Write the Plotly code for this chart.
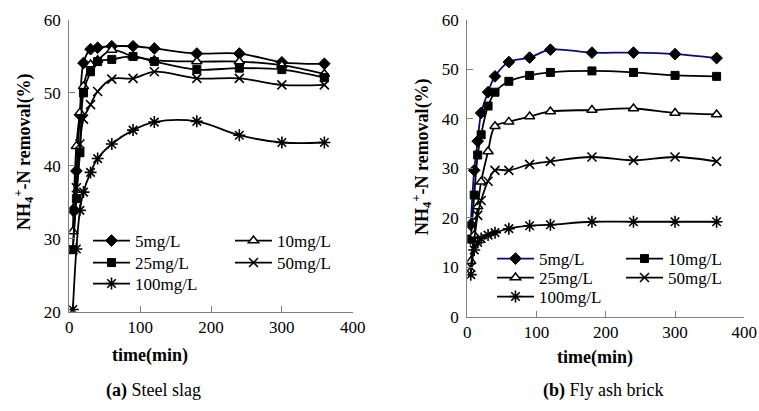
import plotly.graph_objects as go

W, H = 759, 411

# ---------------- data ----------------
time_min = [5, 10, 15, 20, 30, 40, 60, 90, 120, 180, 240, 300, 360]
concentrations = ["5mg/L", "10mg/L", "25mg/L", "50mg/L", "100mg/L"]

# (a) Steel slag
slag_5 = [33.9, 39.3, 47.0, 54.1, 56.0, 56.2, 56.4, 56.4, 56.1, 55.4, 55.4, 54.2, 54.0]
slag_10 = [31.0, 42.7, 47.3, 50.9, 53.9, 54.5, 55.9, 55.0, 54.5, 54.3, 54.3, 53.8, 52.6]
slag_25 = [28.5, 35.5, 41.8, 50.0, 52.9, 54.3, 54.6, 55.0, 54.3, 53.2, 53.4, 53.2, 52.1]
slag_50 = [28.5, 37.0, 43.0, 46.4, 48.4, 50.2, 51.9, 52.0, 52.9, 52.0, 52.0, 51.1, 51.1]
slag_100 = [20.3, 28.6, 33.9, 36.4, 39.1, 41.0, 43.0, 44.9, 46.0, 46.1, 44.2, 43.2, 43.2]

# (b) Fly ash brick
brick_5 = [18.6, 29.6, 35.5, 41.2, 45.4, 48.6, 51.5, 52.4, 54.0, 53.4, 53.4, 53.1, 52.3]
brick_10 = [15.7, 24.6, 32.7, 36.8, 42.6, 45.4, 47.6, 48.8, 49.4, 49.7, 49.4, 48.8, 48.6]
brick_25 = [11.2, 16.5, 22.3, 27.3, 33.4, 38.5, 39.4, 40.5, 41.5, 41.8, 42.1, 41.2, 40.9]
brick_50 = [10.0, 15.5, 20.5, 23.5, 27.4, 29.6, 29.6, 30.8, 31.4, 32.3, 31.6, 32.3, 31.4]
brick_100 = [8.5, 13.5, 15.0, 15.8, 16.5, 17.0, 17.8, 18.4, 18.6, 19.2, 19.2, 19.2, 19.2]

x_ticks = [0, 100, 200, 300, 400]
slag_y_ticks = [20, 30, 40, 50, 60]
brick_y_ticks = [0, 10, 20, 30, 40, 50, 60]

# ---------------- helpers ----------------
def px_x(p):
    return p / W

def px_y(p):
    return 1 - p / H

SERIF = "Liberation Serif, Times New Roman, serif"

marker_styles = {
    "diamond": dict(symbol="diamond", size=9, color="black", line=dict(color="black", width=1)),
    "square": dict(symbol="square", size=8, color="black", line=dict(color="black", width=1)),
    "triangle": dict(symbol="triangle-up", size=9, color="white", line=dict(color="black", width=1.5)),
    "x": dict(symbol="x-thin-open", size=9, color="black", line=dict(color="black", width=1.6)),
    "star": dict(symbol="asterisk-open", size=10, color="black", line=dict(color="black", width=1.6)),
}

fig = go.Figure()

def add(series, name, mstyle, xa, ya, legend, color="black"):
    fig.add_trace(go.Scatter(
        x=time_min, y=series, name=name, mode="lines+markers",
        line=dict(color=color, width=1.8, shape="spline", smoothing=1.0),
        marker=marker_styles[mstyle], xaxis=xa, yaxis=ya, legend=legend,
    ))

# left panel: legend rows: (5,10) (25,50) (100)
add(slag_5, "5mg/L", "diamond", "x", "y", "legend")
add(slag_10, "10mg/L", "triangle", "x", "y", "legend")
add(slag_25, "25mg/L", "square", "x", "y", "legend2")
add(slag_50, "50mg/L", "x", "x", "y", "legend2")
add(slag_100, "100mg/L", "star", "x", "y", "legend3")

# right panel
add(brick_5, "5mg/L", "diamond", "x2", "y2", "legend4", color="#0a0a80")
add(brick_10, "10mg/L", "square", "x2", "y2", "legend4")
add(brick_25, "25mg/L", "triangle", "x2", "y2", "legend5")
add(brick_50, "50mg/L", "x", "x2", "y2", "legend5")
add(brick_100, "100mg/L", "star", "x2", "y2", "legend6")

axis_common = dict(
    showline=True, linecolor="#7f7f7f", linewidth=1.2,
    ticks="inside", ticklen=6, tickcolor="#7f7f7f", tickwidth=1.2,
    showgrid=False, zeroline=False, automargin=False,
    tickfont=dict(family=SERIF, size=17, color="black"),
)

fig.update_layout(
    width=W, height=H,
    margin=dict(l=0, r=0, t=0, b=0, autoexpand=False),
    paper_bgcolor="white", plot_bgcolor="white",
    xaxis=dict(domain=[px_x(69.3), px_x(352.7)], range=[0, 400], tickvals=x_ticks,
               anchor="y", **axis_common),
    yaxis=dict(domain=[px_y(311.7), px_y(20)], range=[20, 60], tickvals=slag_y_ticks,
               anchor="x", ticklabelstandoff=4, **axis_common),
    xaxis2=dict(domain=[px_x(467.3), px_x(744.3)], range=[0, 400], tickvals=x_ticks,
                anchor="y2", **axis_common),
    yaxis2=dict(domain=[px_y(316.7), px_y(20)], range=[0, 60], tickvals=brick_y_ticks,
                anchor="x2", ticklabelstandoff=4, **axis_common),
)

legend_common = dict(
    orientation="h", xanchor="left", yanchor="middle",
    font=dict(family=SERIF, size=17, color="black"),
    bgcolor="rgba(0,0,0,0)", borderwidth=0, itemwidth=37,
    entrywidthmode="pixels",
)

def legend_at(xp, yp, entry):
    d = dict(legend_common)
    d.update(x=px_x(xp), y=px_y(yp), entrywidth=entry)
    return d

fig.update_layout(
    legend=legend_at(88, 241, 90),
    legend2=legend_at(88, 263, 90),
    legend3=legend_at(88, 284, 90),
    legend4=legend_at(492, 259, 77),
    legend5=legend_at(492, 278, 77),
    legend6=legend_at(492, 297, 77),
)

def note(text, xp, yp, size=18, angle=0):
    return dict(text=text, x=px_x(xp), y=px_y(yp), xref="paper", yref="paper",
                xanchor="center", yanchor="middle", textangle=angle, showarrow=False,
                font=dict(family=SERIF, size=size, color="black"))

ytitle = "<b>NH<sub>4</sub><sup>+</sup>-N removal(%)</b>"
ann = [
    note(ytitle, 23, 152, angle=-90),
    note(ytitle, 421, 157, angle=-90),
    note("<b>time(min)</b>", 150, 355),
    note("<b>time(min)</b>", 595, 357),
    note("<b>(a)</b> Steel slag", 153, 390),
    note("<b>(b)</b> Fly ash brick", 603, 390),
]
fig.update_layout(annotations=ann)

fig.write_html("out.html")
